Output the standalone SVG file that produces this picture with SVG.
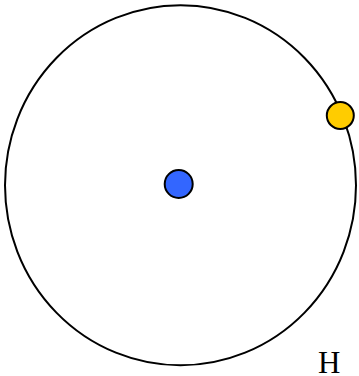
<svg xmlns="http://www.w3.org/2000/svg" width="359" height="376" viewBox="0 0 359 376">
<style>
.orbit{fill:none;stroke:#000;stroke-width:2}
.dot{stroke:#000;stroke-width:2}
.lbl{font-family:"Liberation Serif",serif;font-size:31px;fill:#000}
</style>
<rect width="359" height="376" fill="#fff"/>
<g id="orbit"><ellipse class="orbit" cx="180.5" cy="185.3" rx="175.5" ry="180"/></g>
<g id="nucleus"><circle class="dot" cx="178.7" cy="184" r="14" fill="#3366ff"/></g>
<g id="electron"><circle class="dot" cx="340.3" cy="115.5" r="13.5" fill="#ffcc00"/></g>
<g id="label"><text class="lbl" x="318" y="373">H</text></g>
<g id="connectors"></g>
</svg>
